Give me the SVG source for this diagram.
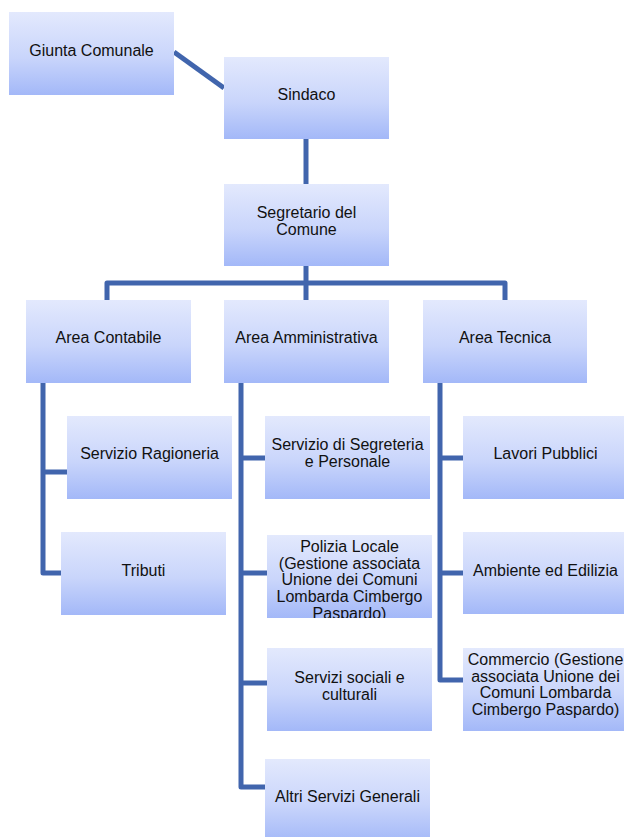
<svg xmlns="http://www.w3.org/2000/svg" width="624" height="837" viewBox="0 0 624 837">
<style>
.box{fill:url(#g);}
.t{font-family:"Liberation Sans",Arial,sans-serif;font-size:16px;fill:#111;text-anchor:middle;}
.c{stroke:#4165ad;stroke-width:5;fill:none;stroke-linejoin:round;}
</style>
<defs>
<linearGradient id="g" x1="0" y1="0" x2="0" y2="1">
<stop offset="0" stop-color="#e3e9fd"/>
<stop offset="0.55" stop-color="#c9d5fb"/>
<stop offset="1" stop-color="#a3b8f8"/>
</linearGradient>
<clipPath id="clipPol"><rect x="267" y="535" width="165" height="83"/></clipPath>
</defs>
<rect width="624" height="837" fill="#fff"/>
<g id="connectors">
<path class="c" d="M174 52 L224 88"/>
<path class="c" d="M306 139 V184"/>
<path class="c" d="M306 266 V300 M107 300 V283 H505 V300"/>
<path class="c" d="M43 383 V573 H61 M43 472 H67"/>
<path class="c" d="M241 383 V787 H265 M241 458 H265 M241 573 H267 M241 683 H267"/>
<path class="c" d="M440 383 V680 H463 M440 458 H463 M440 573 H463"/>
</g>
<g id="giunta"><rect class="box" x="9" y="12" width="165" height="83"/><text class="t" x="91.5" y="56">Giunta Comunale</text></g>
<g id="sindaco"><rect class="box" x="224" y="57" width="165" height="82"/><text class="t" x="306.5" y="100">Sindaco</text></g>
<g id="segretario"><rect class="box" x="224" y="184" width="165" height="82"/><text class="t" x="306.5" y="218">Segretario del</text><text class="t" x="306.5" y="235">Comune</text></g>
<g id="area-contabile"><rect class="box" x="26" y="300" width="165" height="83"/><text class="t" x="108.5" y="343">Area Contabile</text></g>
<g id="area-amministrativa"><rect class="box" x="224" y="300" width="165" height="83"/><text class="t" x="306.5" y="343">Area Amministrativa</text></g>
<g id="area-tecnica"><rect class="box" x="423" y="300" width="164" height="83"/><text class="t" x="505" y="343">Area Tecnica</text></g>
<g id="ragioneria"><rect class="box" x="67" y="416" width="165" height="83"/><text class="t" x="149.5" y="459">Servizio Ragioneria</text></g>
<g id="tributi"><rect class="box" x="61" y="532" width="165" height="83"/><text class="t" x="143.5" y="576">Tributi</text></g>
<g id="segreteria"><rect class="box" x="265" y="416" width="165" height="83"/><text class="t" x="347.5" y="450">Servizio di Segreteria</text><text class="t" x="347.5" y="467">e Personale</text></g>
<g id="polizia"><rect class="box" x="267" y="535" width="165" height="83"/>
<g clip-path="url(#clipPol)">
<text class="t" x="349.5" y="552">Polizia Locale</text>
<text class="t" x="349.5" y="569">(Gestione associata</text>
<text class="t" x="349.5" y="585">Unione dei Comuni</text>
<text class="t" x="349.5" y="602">Lombarda Cimbergo</text>
<text class="t" x="349.5" y="619">Paspardo)</text>
</g></g>
<g id="sociali"><rect class="box" x="267" y="648" width="165" height="83"/><text class="t" x="349.5" y="683">Servizi sociali e</text><text class="t" x="349.5" y="700">culturali</text></g>
<g id="altri"><rect class="box" x="265" y="759" width="165" height="83"/><text class="t" x="347.5" y="802">Altri Servizi Generali</text></g>
<g id="lavori"><rect class="box" x="463" y="416" width="165" height="83"/><text class="t" x="545.5" y="459">Lavori Pubblici</text></g>
<g id="ambiente"><rect class="box" x="463" y="532" width="165" height="82"/><text class="t" x="545.5" y="576">Ambiente ed Edilizia</text></g>
<g id="commercio"><rect class="box" x="463" y="648" width="165" height="83"/>
<text class="t" x="545.5" y="665">Commercio (Gestione</text>
<text class="t" x="545.5" y="682">associata Unione dei</text>
<text class="t" x="545.5" y="698">Comuni Lombarda</text>
<text class="t" x="545.5" y="715">Cimbergo Paspardo)</text></g>
</svg>
